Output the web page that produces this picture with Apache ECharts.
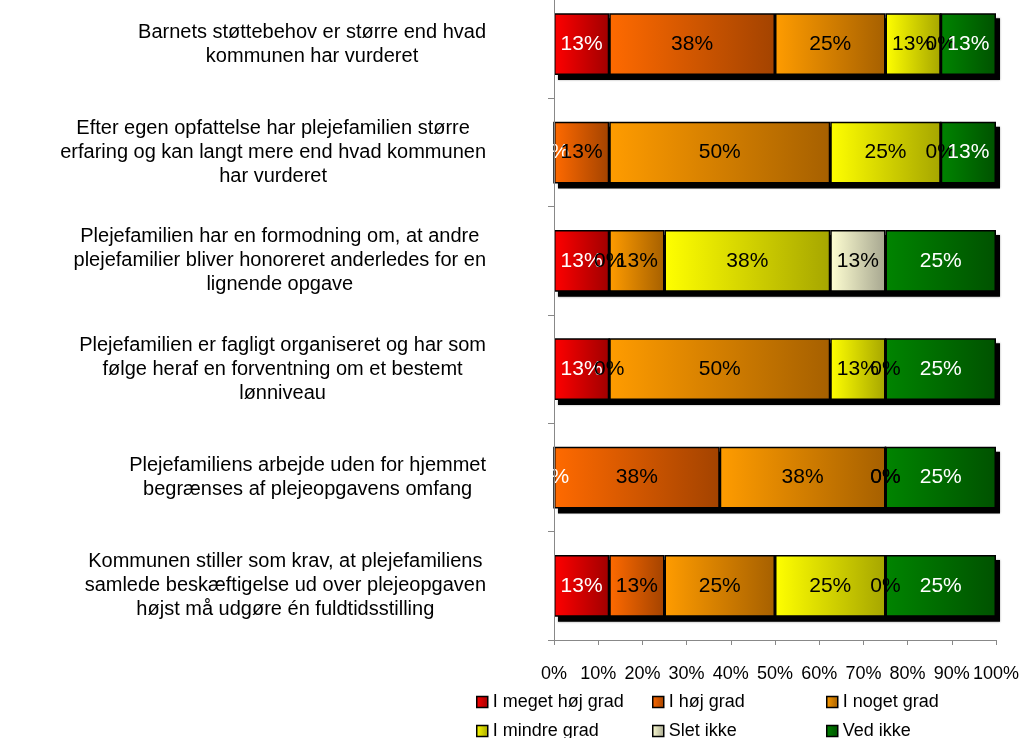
<!DOCTYPE html>
<html>
<head>
<meta charset="utf-8">
<script src="https://cdn.jsdelivr.net/npm/echarts@6/dist/echarts.min.js"></script>
<style>
  html, body { margin: 0; padding: 0; background: #fff; overflow: hidden; }
  #main { position: absolute; left: 0; top: -10px; width: 1024px; height: 780px; }
</style>
</head>
<body>
<div id="main"></div>
<script>
// spørgsmål (top til bund)
let categories = [
    'Barnets støttebehov er større end hvad\nkommunen har vurderet',
    'Efter egen opfattelse har plejefamilien større\nerfaring og kan langt mere end hvad kommunen\nhar vurderet',
    'Plejefamilien har en formodning om, at andre\nplejefamilier bliver honoreret anderledes for en\nlignende opgave',
    'Plejefamilien er fagligt organiseret og har som\nfølge heraf en forventning om et bestemt\nlønniveau',
    'Plejefamiliens arbejde uden for hjemmet\nbegrænses af plejeopgavens omfang',
    'Kommunen stiller som krav, at plejefamiliens\nsamlede beskæftigelse ud over plejeopgaven\nhøjst må udgøre én fuldtidsstilling'
]

let seriesNames = ['I meget høj grad', 'I høj grad', 'I noget grad', 'I mindre grad', 'Slet ikke', 'Ved ikke']

// andele i procent
let megetHoj = [12.5, 0, 12.5, 12.5, 0, 12.5]
let hoj = [37.5, 12.5, 0, 0, 37.5, 12.5]
let noget = [25, 50, 12.5, 50, 37.5, 25]
let mindre = [12.5, 25, 37.5, 12.5, 0, 25]
let sletIkke = [0, 0, 12.5, 0, 0, 0]
let vedIkke = [12.5, 12.5, 25, 25, 25, 25]

let xTicks = [0, 10, 20, 30, 40, 50, 60, 70, 80, 90, 100]

let values = [megetHoj, hoj, noget, mindre, sletIkke, vedIkke]
let totals = categories.map((c, j) => values.reduce((s, arr) => s + arr[j], 0))

let colors = [
    ['#ff0000', '#a00000'],
    ['#ff6a00', '#a34300'],
    ['#ff9c00', '#a66000'],
    ['#ffff00', '#a6a600'],
    ['#ffffd2', '#a6a690'],
    ['#008400', '#005200']
]
let labelColors = ['#fff', '#000', '#000', '#000', '#000', '#fff']
let font = 'Liberation Sans'

let chartDom = document.getElementById('main');
let myChart = echarts.init(chartDom);

let series = seriesNames.map((name, i) => {
    return {
        name: name,
        type: 'bar',
        stack: 'total',
        xAxisIndex: 0,
        yAxisIndex: 0,
        barCategoryGap: '43%',
        z: 3,
        data: values[i],
        itemStyle: {
            color: new echarts.graphic.LinearGradient(0, 0, 1, 0, [
                { offset: 0, color: colors[i][0] },
                { offset: 1, color: colors[i][1] }
            ]),
            borderColor: '#000',
            borderWidth: 1.5
        },
        label: {
            show: true,
            position: 'inside',
            color: labelColors[i],
            fontFamily: font,
            fontSize: 21,
            formatter: p => Math.round(p.value) + '%'
        }
    }
})

// skygge bag søjlerne
series.unshift({
    name: 'skygge',
    type: 'bar',
    xAxisIndex: 1,
    yAxisIndex: 1,
    barCategoryGap: '43%',
    z: 1,
    silent: true,
    data: totals,
    itemStyle: {
        color: '#000',
        shadowColor: 'rgba(0,0,0,0.35)',
        shadowBlur: 2
    }
})

// legend i tre kolonner
let legendCols = [[0, 3], [1, 4], [2, 5]]
let legendLeft = [476, 652, 826]
let legends = legendCols.map((col, k) => {
    return {
        data: col.map(i => seriesNames[i]),
        orient: 'vertical',
        left: legendLeft[k],
        top: 702,
        itemWidth: 11,
        itemHeight: 11,
        itemGap: 9,
        padding: 0,
        icon: 'rect',
        itemStyle: { borderColor: '#000', borderWidth: 1.5 },
        textStyle: {
            color: '#000',
            fontFamily: font,
            fontSize: 18,
            lineHeight: 20
        }
    }
})

let option = {
    animation: false,
    backgroundColor: '#fff',
    grid: [
        { left: 554, right: 28, top: 0, bottom: 130 },
        { left: 558, right: 24, top: 5, bottom: 125 }
    ],
    xAxis: [
        {
            type: 'value',
            gridIndex: 0,
            min: xTicks[0],
            max: xTicks[xTicks.length - 1],
            interval: 10,
            axisLine: { show: true, lineStyle: { color: '#888' } },
            axisTick: { show: true, length: 5, lineStyle: { color: '#888' } },
            splitLine: { show: false },
            axisLabel: {
                margin: 25,
                color: '#000',
                fontFamily: font,
                fontSize: 18,
                formatter: '{value}%'
            }
        },
        {
            type: 'value',
            gridIndex: 1,
            min: 0,
            max: 100,
            show: false
        }
    ],
    yAxis: [
        {
            type: 'category',
            gridIndex: 0,
            inverse: true,
            data: categories,
            z: 4,
            axisLine: { show: true, lineStyle: { color: '#888' } },
            axisTick: { show: true, length: 6, lineStyle: { color: '#888' } },
            axisLabel: {
                align: 'right',
                margin: 68,
                color: '#000',
                fontFamily: font,
                fontSize: 20,
                lineHeight: 24,
                formatter: v => v.split('\n').map(l => '{c|' + l + '}').join('\n'),
                rich: {
                    c: { align: 'center', fontFamily: font, fontSize: 20, lineHeight: 24, color: '#000' }
                }
            }
        },
        {
            type: 'category',
            gridIndex: 1,
            inverse: true,
            data: categories,
            show: false
        }
    ],
    legend: legends,
    series: series
};

option && myChart.setOption(option);
</script>
</body>
</html>
